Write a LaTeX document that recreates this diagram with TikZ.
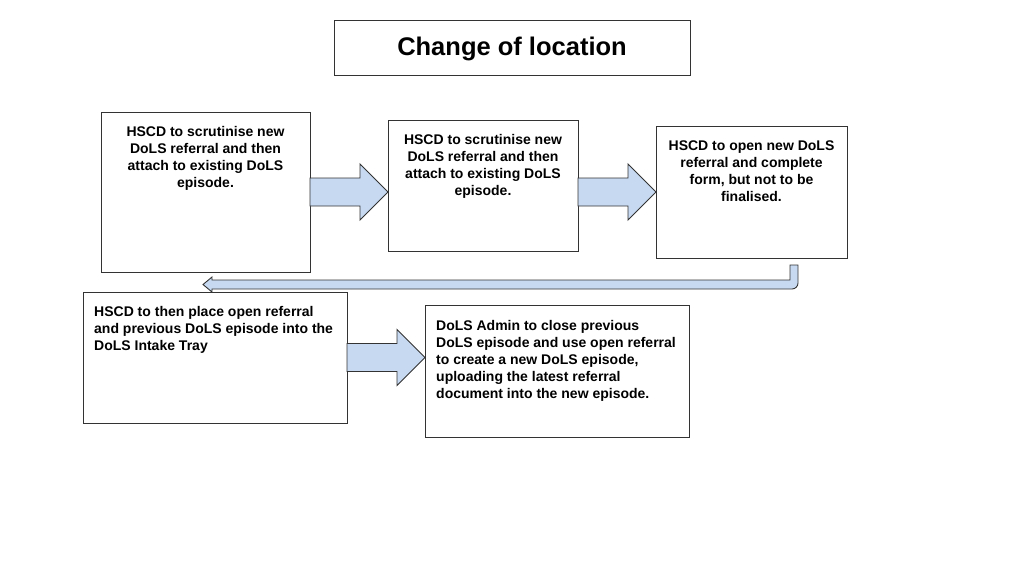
\documentclass[tikz,border=0pt]{standalone}
\usepackage{fontspec}
\setmainfont{Liberation Sans}
\usetikzlibrary{calc}
\definecolor{arrowfill}{HTML}{C6D9F1}
\definecolor{edge}{HTML}{333333}
\tikzset{
  box/.style={draw=edge, line width=0.9pt, fill=white, inner sep=0pt, outer sep=0pt},
  txt/.style={inner sep=0pt, font=\bfseries\fontsize{14}{17}\selectfont},
  blockarrow/.style={draw=edge, line width=0.9pt, fill=arrowfill, line join=miter},
}
\newcommand\blockarr[2]{%
  \draw[blockarrow] let \p1=(#1), \p2=(#2) in
    (\x1,\y1+14pt) -- (\x2-28pt,\y1+14pt) -- (\x2-28pt,\y1+28pt) -- (\x2,\y1)
    -- (\x2-28pt,\y1-28pt) -- (\x2-28pt,\y1-14pt) -- (\x1,\y1-14pt) -- cycle;}
\begin{document}
\begin{tikzpicture}[x=1pt,y=-1pt]
\useasboundingbox (0,0) rectangle (1024,576);
% title
\node[box, minimum width=356pt, minimum height=55pt] (title) at (512,47.5) {};
\node[inner sep=0pt, font=\bfseries\fontsize{25.5}{30}\selectfont] (tt) at (512,49) {Change of location};
% boxes
\node[box, minimum width=209pt, minimum height=160pt] (b1) at (205.5,192) {};
\node[box, minimum width=190pt, minimum height=131pt] (b2) at (483,185.5) {};
\node[box, minimum width=191pt, minimum height=132pt] (b3) at (751.5,192) {};
\node[box, minimum width=264pt, minimum height=131pt] (b4) at (215,357.5) {};
\node[box, minimum width=264pt, minimum height=132pt] (b5) at (557,371) {};
% texts
\node[txt, anchor=north, align=center] (t1) at (205.5,126) {HSCD to scrutinise new\\DoLS referral and then\\attach to existing DoLS\\episode.};
\node[txt, anchor=north, align=center] (t2) at (483,134) {HSCD to scrutinise new\\DoLS referral and then\\attach to existing DoLS\\episode.};
\node[txt, anchor=north, align=center] (t3) at (751.5,141) {HSCD to open new DoLS\\referral and complete\\form, but not to be\\finalised.};
\node[txt, anchor=north west, align=left] (t4) at (94,306) {HSCD to then place open referral\\and previous DoLS episode into the\\DoLS Intake Tray};
\node[txt, anchor=north west, align=left] (t5) at (436,320) {DoLS Admin to close previous\\DoLS episode and use open referral\\to create a new DoLS episode,\\uploading the latest referral\\document into the new episode.};
% block arrows
\blockarr{b1.east}{b2.west |- b1.east}
\blockarr{b2.east |- b3.west}{b3.west}
\blockarr{b4.east}{b5.west |- b4.east}
% U-turn arrow
\coordinate (us) at (794,265);
\coordinate (ue) at (203,284.5);
\draw[draw=edge, line width=0.9pt, fill=arrowfill]
  (790,265) -- (790,280) -- (212,280) -- (212,277) -- (ue) -- (212,292) -- (212,289)
  [rounded corners=6pt] -- (798,289) [sharp corners] -- (798,265) -- cycle;
\end{tikzpicture}
\end{document}
